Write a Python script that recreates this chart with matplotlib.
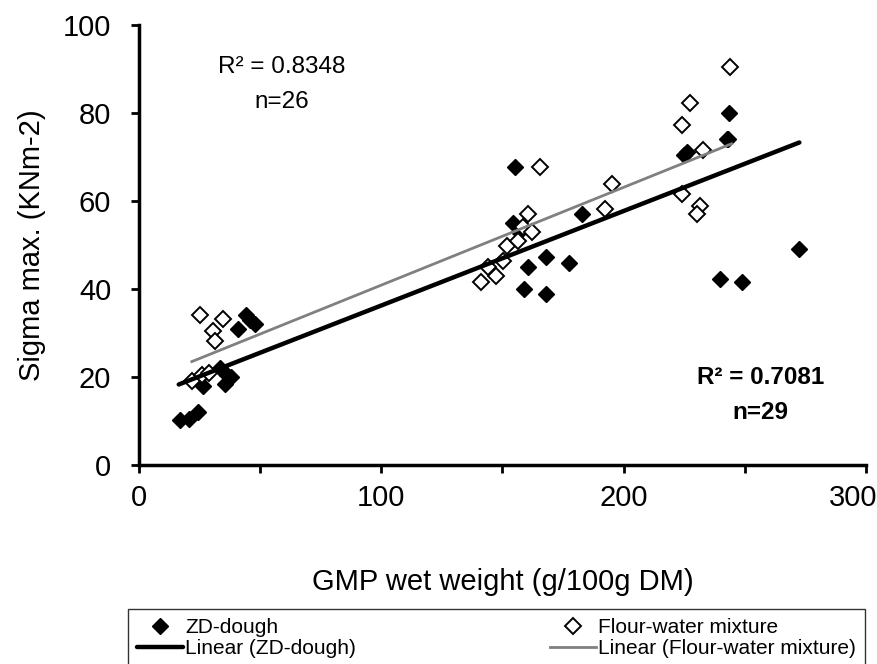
import numpy as np
import matplotlib.pyplot as plt
import matplotlib.transforms as mtransforms

plt.rcParams['font.family'] = ['Liberation Sans', 'DejaVu Sans']

# ZD-dough (filled diamonds)
zd_x = [17, 20.5, 24.5, 26.5, 33.5, 35.5, 36.5, 38,
        41, 44, 46, 48,
        154.5, 155, 157, 159, 160.5, 168, 168, 177.5, 183,
        226, 242.6, 243.4, 239.6, 248.7, 272.5, 225, 243]
zd_y = [10.3, 10.5, 12, 18, 22, 18.5, 20.5, 20,
        31, 34, 33, 32,
        55, 67.8, 53, 40, 45, 47.3, 38.8, 46, 57,
        71.2, 74.2, 80.1, 42.2, 41.7, 49, 70.5, 74]

# Flour-water mixture (open diamonds)
fw_x = [22, 26, 29, 25.2, 34.7, 30.5, 31.4,
        141, 144, 147.5, 150.2, 152, 156.4, 158.4, 160.5, 162, 165.6, 192.4, 195,
        244, 227.3, 224, 232.7, 224, 231.4, 230.2]
fw_y = [19, 20.5, 21, 34.2, 33.1, 30.4, 28.1,
        41.5, 45, 43, 46.3, 49.8, 51, 54.1, 57.1, 53, 67.8, 58.2, 63.9,
        90.4, 82.2, 77.2, 71.5, 61.6, 58.9, 57.1]

# trendline ends
zd_fit_x = [16.4, 272.5]
zd_fit_y = [18.3, 73.3]
fw_fit_x = [21.8, 244.5]
fw_fit_y = [23.5, 73.0]

fig = plt.figure(figsize=(8.78, 6.64), dpi=100)
ax = fig.add_axes([139 / 878, 1 - 465 / 664, (866 - 139) / 878, (465 - 25) / 664])

ax.plot(zd_x, zd_y, 'D', color='black', markersize=8.5, markeredgewidth=1,
        linestyle='none', label='ZD-dough', zorder=3)
ax.plot(fw_x, fw_y, 'D', markerfacecolor='white', markeredgecolor='black',
        markersize=8.5, markeredgewidth=1.4, linestyle='none',
        label='Flour-water mixture', zorder=4)

ax.plot(zd_fit_x, zd_fit_y, color='black', linewidth=3.2,
        solid_capstyle='round', label='Linear (ZD-dough)', zorder=5)
ax.plot(fw_fit_x, fw_fit_y, color='#808080', linewidth=2,
        label='Linear (Flour-water mixture)', zorder=5)

ax.text(59, 90.5, 'R² = 0.8348', ha='center', va='center', fontsize=17.5)
ax.text(59, 82.5, 'n=26', ha='center', va='center', fontsize=17.5)
ax.text(256.5, 20, 'R² = 0.7081', ha='center', va='center', fontsize=17.5, fontweight='bold')
ax.text(256.5, 12, 'n=29', ha='center', va='center', fontsize=17.5, fontweight='bold')

ax.set_xlim(0, 300)
ax.set_ylim(0, 100)
ax.set_xticks([0, 50, 100, 150, 200, 250, 300])
ax.set_xticklabels(['0', '', '100', '', '200', '', '300'])
ax.set_yticks([0, 20, 40, 60, 80, 100])
for s in ['top', 'right']:
    ax.spines[s].set_visible(False)
for s in ['left', 'bottom']:
    ax.spines[s].set_linewidth(2.5)
ax.tick_params(direction='out', length=6, width=2, labelsize=21)
ax.tick_params(axis='y', pad=14)
ax.tick_params(axis='x', pad=8)
ax.set_xlabel('GMP wet weight (g/100g DM)', fontsize=21, labelpad=40)
ax.set_ylabel('Sigma max. (KNm-2)', fontsize=21, labelpad=12)

# keep the last x label inside the figure
last = ax.get_xticklabels()[-1]
last.set_transform(last.get_transform() +
                   mtransforms.ScaledTranslation(-0.13, 0, fig.dpi_scale_trans))

handles, labels = ax.get_legend_handles_labels()
order = [0, 2, 1, 3]
leg = fig.legend([handles[i] for i in order], [labels[i] for i in order],
                 ncol=2, loc='upper left',
                 bbox_to_anchor=(128 / 878, (664 - 609) / 664),
                 fontsize=15, frameon=True, fancybox=False, edgecolor='black',
                 handlelength=2.2, handletextpad=0.1, borderaxespad=0,
                 labelspacing=0.1, borderpad=0.45, columnspacing=9.3)
leg.get_frame().set_linewidth(1)

fig.savefig('out.png', dpi=100)
